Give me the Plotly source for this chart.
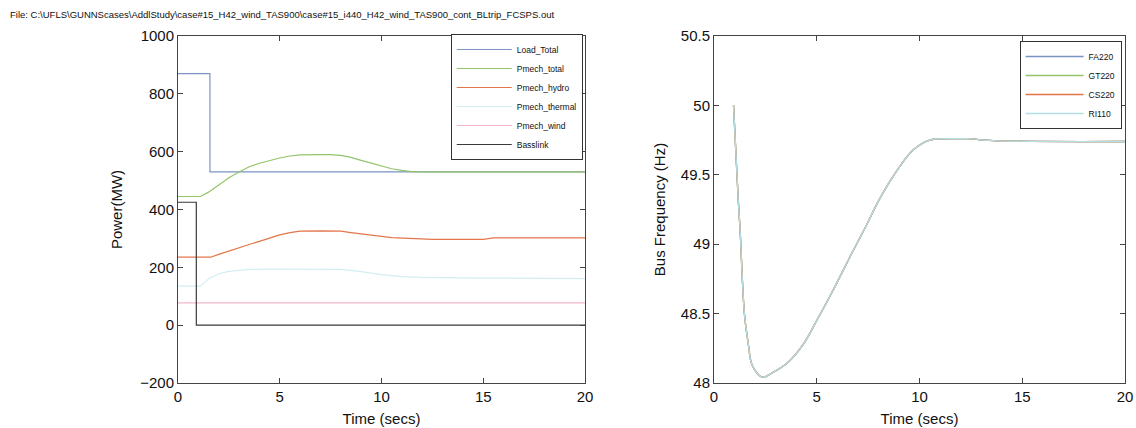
import plotly.graph_objects as go

TITLE = r"File: C:\UFLS\GUNNScases\AddlStudy\case#15_H42_wind_TAS900\case#15_i440_H42_wind_TAS900_cont_BLtrip_FCSPS.out"

# ---- left panel data (MW) ----
load_t = [0, 1.57, 20]
load_v = [870, 530, 530]

bass_t = [0, 0.9, 20]
bass_v = [425, 0, 0]

ptot_t = [0, 1.1, 1.5, 2, 2.5, 3, 3.5, 4, 4.5, 5, 5.5, 6, 7, 7.5, 8, 8.5, 9, 9.5, 10, 10.5, 11, 11.5, 12, 20]
ptot_v = [445, 445, 460, 485, 510, 530, 548, 560, 570, 578, 585, 589, 590, 590, 587, 580, 570, 560, 550, 541, 535, 531, 530, 530]

phyd_t = [0, 1.6, 2, 2.5, 3, 3.5, 4, 4.5, 5, 5.5, 6, 7, 8, 8.5, 9, 9.5, 10, 10.5, 11, 12, 12.5, 15, 15.5, 20]
phyd_v = [235, 235, 245, 257, 268, 279, 290, 302, 312, 320, 325, 326, 325, 320, 315, 311, 307, 303, 302, 299, 297, 297, 302, 302]

pthe_t = [0, 1.1, 1.5, 2, 2.5, 3, 3.5, 4.5, 6, 8, 9, 10, 11, 12, 15, 20]
pthe_v = [135, 135, 160, 178, 186, 190, 193, 194, 194, 193, 185, 175, 168, 165, 163, 161]

pwin_t = [0, 20]
pwin_v = [77, 77]

# ---- right panel data (Hz) ----
freq_t = [0.95, 1.18, 1.27, 1.48, 1.67, 1.83, 2.16, 2.4, 2.8, 3.54, 4.35, 5.0, 5.8, 6.62, 7.43, 8.0, 8.9, 9.7, 10.5, 11.5, 12.3, 13.8, 20]
freq_v = [50.0, 49.32, 49.10, 48.50, 48.28, 48.14, 48.06, 48.04, 48.07, 48.14, 48.28, 48.45, 48.67, 48.91, 49.14, 49.31, 49.53, 49.68, 49.75, 49.76, 49.76, 49.745, 49.74]

left_series = [
    ("Load_Total", load_t, load_v, "#7a94c4", "hv"),
    ("Pmech_total", ptot_t, ptot_v, "#93c46a", "linear"),
    ("Pmech_hydro", phyd_t, phyd_v, "#e2764a", "linear"),
    ("Pmech_thermal", pthe_t, pthe_v, "#d2eef2", "linear"),
    ("Pmech_wind", pwin_t, pwin_v, "#f2b8c6", "linear"),
    ("Basslink", bass_t, bass_v, "#3a3a3a", "hv"),
]
right_series = [
    ("FA220", "#7a94c4"),
    ("GT220", "#93c46a"),
    ("CS220", "#e2764a"),
    ("RI110", "#b4dde4"),
]

FONT = "Liberation Sans, Arial, sans-serif"
fig = go.Figure()
for name, t, v, c, shp in left_series:
    fig.add_trace(go.Scatter(x=t, y=v, name=name, mode="lines", line=dict(color=c, width=1.2, shape=shp),
                             xaxis="x", yaxis="y", legend="legend"))
for name, c in right_series:
    fig.add_trace(go.Scatter(x=freq_t, y=freq_v, name=name, mode="lines", line=dict(color=c, width=1.3, shape="spline"),
                             xaxis="x2", yaxis="y2", legend="legend2"))

W, H = 1136, 428
L1, R1 = 178, 585
L2, R2 = 714, 1125
T, B = 36, 383

axis_common = dict(showline=True, linecolor="#444", linewidth=1, mirror="ticks", ticks="inside", ticklen=5,
                   tickcolor="#444", showgrid=False, zeroline=False, automargin=False,
                   tickfont=dict(family=FONT, size=15, color="#111"))

fig.update_layout(
    width=W, height=H, margin=dict(l=0, r=0, t=0, b=0), autosize=False,
    paper_bgcolor="white", plot_bgcolor="white",
    font=dict(family=FONT, color="#111"),
    hovermode=False,
    xaxis=dict(domain=[L1 / W, R1 / W], range=[0, 20], dtick=5, anchor="y",
               title=dict(text="Time (secs)", font=dict(size=15, family=FONT), standoff=9), **axis_common),
    yaxis=dict(domain=[1 - B / H, 1 - T / H], range=[-200, 1000], dtick=200, anchor="x",
               title=dict(text="Power(MW)", font=dict(size=15, family=FONT), standoff=13), **axis_common),
    xaxis2=dict(domain=[L2 / W, R2 / W], range=[0, 20], dtick=5, anchor="y2",
                title=dict(text="Time (secs)", font=dict(size=15, family=FONT), standoff=9), **axis_common),
    yaxis2=dict(domain=[1 - B / H, 1 - T / H], range=[48, 50.5], dtick=0.5, anchor="x2",
                title=dict(text="Bus Frequency (Hz)", font=dict(size=15, family=FONT), standoff=11), **axis_common),
    legend=dict(x=R1 / W - 0.002, y=1 - 34 / H, xanchor="right", yanchor="top", bgcolor="white",
                bordercolor="#333", borderwidth=1, font=dict(size=8.5, family=FONT), tracegroupgap=0,
                itemwidth=55),
    legend2=dict(x=R2 / W - 0.003, y=1 - 41 / H, xanchor="right", yanchor="top", bgcolor="white",
                 bordercolor="#333", borderwidth=1, font=dict(size=8.5, family=FONT), itemwidth=58),
    annotations=[dict(text=TITLE, x=8 / W, y=1 - 7 / H, xref="paper", yref="paper", xanchor="left",
                      yanchor="top", showarrow=False, font=dict(size=9.5, family=FONT, color="#111"))],
)

fig.write_html("out.html", config={"displayModeBar": False},
               post_script="document.body.style.margin='0px';document.body.style.padding='0px';")
